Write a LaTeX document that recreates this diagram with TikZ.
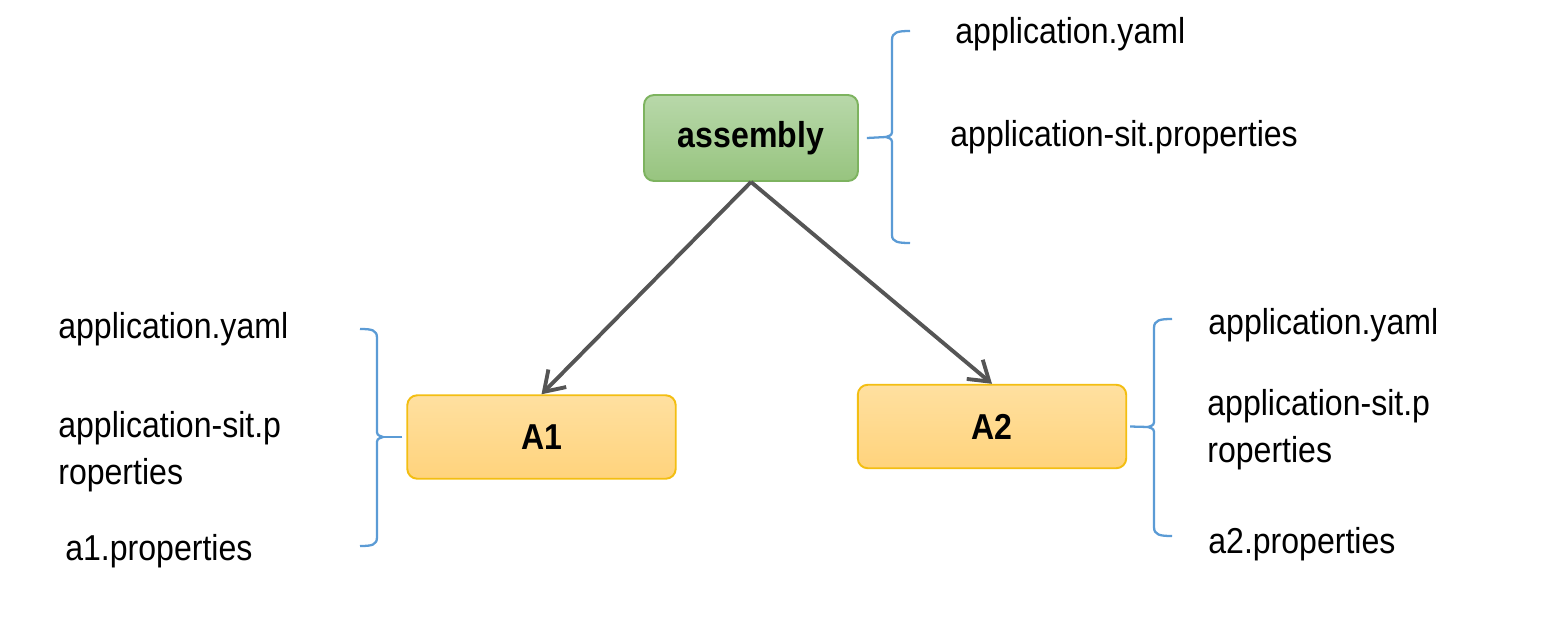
\documentclass[tikz,border=0pt]{standalone}
\usepackage{fontspec}
\setmainfont{Liberation Sans}[FakeStretch=0.89]
\usepackage{xcolor}
\usetikzlibrary{arrows.meta,positioning,calc}

\definecolor{grntop}{HTML}{B8D8AA}
\definecolor{grnbot}{HTML}{97C47F}
\definecolor{grnline}{HTML}{7DB35F}
\definecolor{ylwtop}{HTML}{FFE0A0}
\definecolor{ylwbot}{HTML}{FFD37C}
\definecolor{ylwline}{HTML}{F3BE12}
\definecolor{brcblue}{HTML}{5B9BD5}
\definecolor{arrgray}{HTML}{555555}

\begin{document}
\begin{tikzpicture}[
    x=0.02cm, y=-0.02cm,
    grn/.style={rectangle, draw=grnline, top color=grntop, bottom color=grnbot, line width=1.1pt, rounded corners=0.2cm, minimum width=4.28cm, minimum height=1.72cm, font=\fontsize{20.5}{24}\selectfont\bfseries},
    ylw/.style={rectangle, draw=ylwline, top color=ylwtop, bottom color=ylwbot, line width=1.1pt, rounded corners=0.2cm, minimum width=5.37cm, minimum height=1.67cm, font=\fontsize{20.5}{24}\selectfont\bfseries},
    lbl/.style={anchor=base west, inner sep=0pt, align=left, font=\fontsize{20.5}{26.7}\selectfont},
    arr/.style={-{Straight Barb[length=0.38cm, width=0.5cm]}, line width=2.2pt, draw=arrgray},
    brc/.style={draw=brcblue, line width=1.3pt}
]
    \useasboundingbox (0,0) rectangle (1546,622);

    \node [grn] (asm) at (751,138) {assembly};
    \node [ylw] (a1) at (541.5,437) {A1};
    \node [ylw] (a2) at (992,426.5) {A2};

    \draw [arr] (asm.south) -- (a1.north);
    \draw [arr] (asm.south) -- (a2.north);

    % braces
    \coordinate (c0) at (886,137);
    \coordinate (c1) at (383,437);
    \coordinate (c2) at (1148,427);
    \draw [brc] ([xshift=0.16cm]asm.east) -- (c0);
    \draw [brc] (910,31) .. controls (898,31) and (892,32) .. (892,40) -- (892,129) .. controls (892,135) .. (c0) .. controls (892,139) .. (892,145) -- (892,235) .. controls (892,242) and (898,243) .. (910,243);
    \draw [brc] ([xshift=-0.08cm]a1.west) -- (c1);
    \draw [brc] (360,329) .. controls (372,329) and (377,330) .. (377,338) -- (377,429) .. controls (377,435) .. (c1) .. controls (377,439) .. (377,445) -- (377,537) .. controls (377,545) and (372,546) .. (360,546);
    \draw [brc] ([xshift=0.06cm]a2.east) -- (c2);
    \draw [brc] (1172,319) .. controls (1160,319) and (1154,320) .. (1154,328) -- (1154,419) .. controls (1154,425) .. (c2) .. controls (1154,429) .. (1154,435) -- (1154,527) .. controls (1154,535) and (1160,536) .. (1172,536);

    % file names
    \node [lbl] (t1) at (955,43) {application.yaml};
    \node [lbl] (t2) at (950,146) {application-sit.properties};
    \node [lbl] (l1) at (58,338) {application.yaml};
    \node [lbl] (l2) at (58,484) {application-sit.p\\roperties};
    \node [lbl] (l3) at (65,560) {a1.properties};
    \node [lbl] (r1) at (1208,334) {application.yaml};
    \node [lbl] (r2) at (1207,462) {application-sit.p\\roperties};
    \node [lbl] (r3) at (1208,553) {a2.properties};
\end{tikzpicture}
\end{document}
